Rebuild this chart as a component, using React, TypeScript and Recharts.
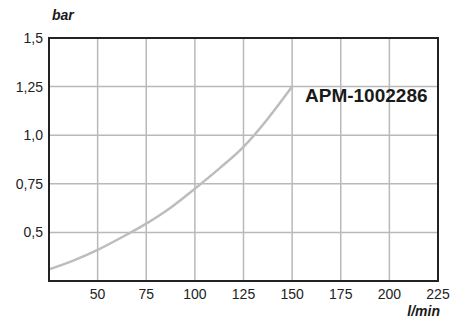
import React from 'react';
import { LineChart, Line, XAxis, YAxis, CartesianGrid, ReferenceArea } from 'recharts';

const flows = [25, 37.5, 50, 62.5, 75, 87.5, 100, 112.5, 125, 137.5, 150];
const pressures = [0.31, 0.355, 0.41, 0.475, 0.545, 0.627, 0.725, 0.828, 0.94, 1.085, 1.25];
const xTicks = [50, 75, 100, 125, 150, 175, 200, 225];
const yTicks = [0.5, 0.75, 1, 1.25, 1.5];
const seriesName = 'APM-1002286';

const data = flows.map((f, i) => ({ flow: f, p: pressures[i] }));

const fmtY = (v: number) => (v === 1 ? '1,0' : String(v).replace('.', ','));

const font = 'Liberation Sans, Arial, Helvetica, sans-serif';

export default function App() {
  return (
    <div style={{ position: 'absolute', left: 0, top: 0, width: 451, height: 321, background: '#fff' }}>
      <LineChart width={451} height={321} data={data} margin={{ top: 38, right: 13, left: 0, bottom: 0 }}>
        <CartesianGrid stroke="#b9b9bb" strokeWidth={1.5} />
        <XAxis
          dataKey="flow"
          type="number"
          domain={[25, 225]}
          ticks={xTicks}
          height={40}
          tickLine={false}
          axisLine={{ stroke: '#222', strokeWidth: 2 }}
          tick={{ fill: '#222', fontSize: 14, fontFamily: font }}
        />
        <YAxis
          type="number"
          domain={[0.25, 1.5]}
          ticks={yTicks}
          width={49}
          tickLine={false}
          tickMargin={0}
          tickFormatter={fmtY}
          axisLine={{ stroke: '#222', strokeWidth: 2 }}
          tick={{ fill: '#222', fontSize: 14, fontFamily: font }}
        />
        <ReferenceArea x1={25} x2={225} y1={0.25} y2={1.5} fill="none" stroke="#222" strokeWidth={2} />
        <Line
          dataKey="p"
          type="monotone"
          stroke="#bdbdbf"
          strokeWidth={2.5}
          dot={false}
          isAnimationActive={false}
        />
        <text x={305} y={102} fontSize={19} fontWeight="bold" fontFamily={font} fill="#1a1a1a">{seriesName}</text>
        <text x={52} y={20} fontSize={14} fontWeight="bold" fontStyle="italic" fontFamily={font} fill="#1a1a1a">bar</text>
        <text x={440} y={316} textAnchor="end" fontSize={14} fontWeight="bold" fontStyle="italic" fontFamily={font} fill="#1a1a1a">l/min</text>
      </LineChart>
    </div>
  );
}
